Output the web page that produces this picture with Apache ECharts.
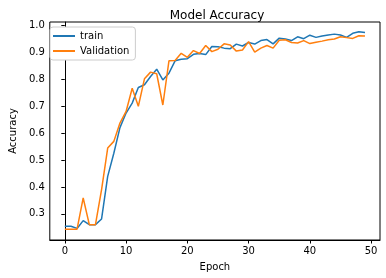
<!DOCTYPE html>
<html><head><meta charset="utf-8">
<script src="https://cdn.jsdelivr.net/npm/echarts@6/dist/echarts.min.js"></script>
<style>html,body{margin:0;padding:0;background:#fff}#c{width:386px;height:278px}</style>
</head><body><div id="c"></div>
<script>
const epochs = Array.from({length: 50}, (_, i) => i);
const trainAcc = [0.254,0.254,0.246,0.275,0.260,0.260,0.281,0.439,0.525,0.620,
  0.674,0.711,0.769,0.779,0.810,0.837,0.797,0.822,0.868,0.874,
  0.876,0.892,0.895,0.891,0.921,0.920,0.915,0.913,0.930,0.923,
  0.936,0.930,0.943,0.947,0.931,0.952,0.949,0.943,0.957,0.950,
  0.963,0.955,0.960,0.964,0.967,0.964,0.955,0.970,0.976,0.973];
const valAcc = [0.243,0.243,0.243,0.359,0.260,0.260,0.390,0.544,0.569,0.637,
  0.680,0.766,0.699,0.801,0.826,0.820,0.704,0.868,0.869,0.896,
  0.881,0.906,0.895,0.925,0.902,0.911,0.931,0.927,0.904,0.908,
  0.939,0.900,0.915,0.925,0.915,0.944,0.946,0.936,0.934,0.943,
  0.932,0.937,0.941,0.946,0.949,0.957,0.954,0.951,0.961,0.960];
const xTicks = [0,10,20,30,40,50];
const yTicks = [0.3,0.4,0.5,0.6,0.7,0.8,0.9,1.0];
const seriesNames = ['train','Validation'];
const colors = ['#1f77b4','#ff7f0e'];

const font = 'DejaVu Sans';
const chart = echarts.init(document.getElementById('c'), null, {renderer:'canvas'});
chart.setOption({
  animation:false,
  textStyle:{fontFamily:font},
  title:{text:'Model Accuracy', left:212, textAlign:'center', top:5,
    textStyle:{fontFamily:font, fontSize:12, fontWeight:'normal', color:'#000'}},
  grid:{left:44, right:6, top:22, bottom:38, show:true, borderColor:'#000', borderWidth:1, backgroundColor:'transparent'},
  legend:{show:true, orient:'vertical', left:50, top:27, data:seriesNames,
    backgroundColor:'#fff', borderColor:'#cccccc', borderWidth:1, borderRadius:3,
    padding:[4,6,4,3], itemGap:5, itemWidth:22, itemHeight:2, icon:'rect',
    textStyle:{fontFamily:font, fontSize:10, color:'#000', padding:[0,0,0,0]}},
  xAxis:{type:'value', min:-2.45, max:51.45, name:'Epoch', nameLocation:'middle', nameGap:22,
    nameTextStyle:{fontFamily:font, fontSize:10, color:'#000'},
    axisLine:{show:true, lineStyle:{color:'#000'}},
    axisTick:{show:true, length:3.5, customValues:xTicks, lineStyle:{color:'#000'}},
    axisLabel:{customValues:xTicks, fontFamily:font, fontSize:10, color:'#000', margin:6},
    splitLine:{show:false}},
  yAxis:{type:'value', min:0.203, max:1.012, name:'Accuracy', nameLocation:'middle', nameGap:30,
    nameTextStyle:{fontFamily:font, fontSize:10, color:'#000'},
    axisLine:{show:true, lineStyle:{color:'#000'}},
    axisTick:{show:true, length:3.5, customValues:yTicks, lineStyle:{color:'#000'}},
    axisLabel:{customValues:yTicks, fontFamily:font, fontSize:10, color:'#000', margin:5,
      formatter:v=>v.toFixed(1)},
    splitLine:{show:false}},
  series:[
    {name:seriesNames[0], type:'line', data:epochs.map((e,i)=>[e,trainAcc[i]]), showSymbol:false,
     color:colors[0], lineStyle:{width:1.5, color:colors[0]}, z:2},
    {name:seriesNames[1], type:'line', data:epochs.map((e,i)=>[e,valAcc[i]]), showSymbol:false,
     color:colors[1], lineStyle:{width:1.5, color:colors[1]}, z:3}
  ]
});
</script></body></html>
